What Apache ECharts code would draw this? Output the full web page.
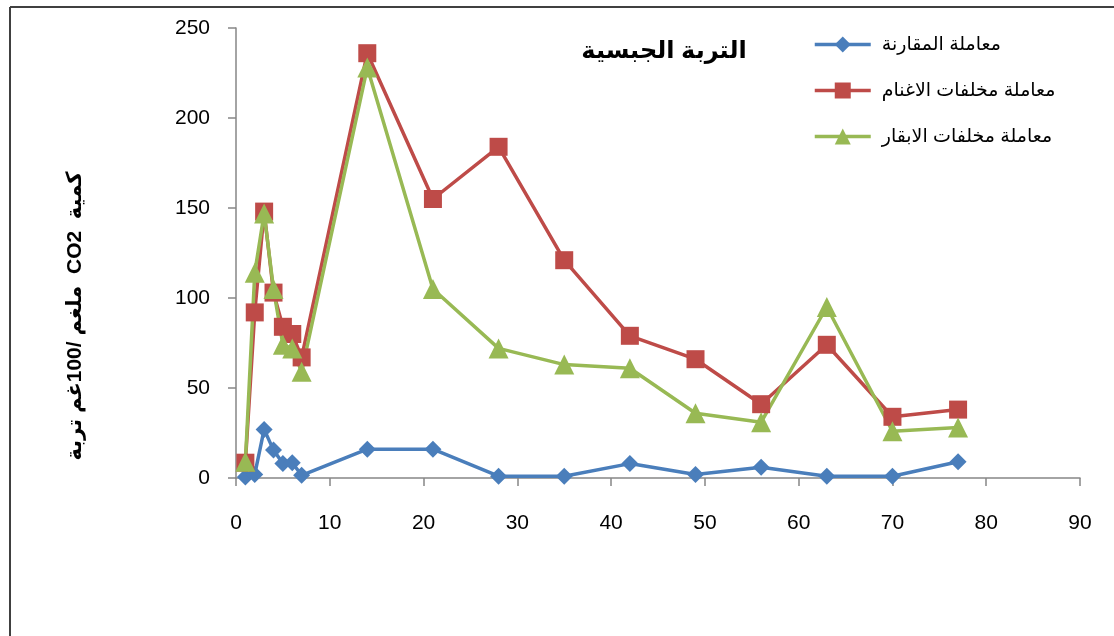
<!DOCTYPE html>
<html>
<head>
<meta charset="utf-8">
<script src="https://cdn.jsdelivr.net/npm/echarts@6/dist/echarts.min.js"></script>
<style>
  html, body { margin: 0; padding: 0; background: #fff; }
  #chart { width: 1114px; height: 636px; }
</style>
</head>
<body>
<div id="chart"></div>
<script>
// Days of incubation
const days = [1, 2, 3, 4, 5, 6, 7, 14, 21, 28, 35, 42, 49, 56, 63, 70, 77];

// CO2 evolved (mg / 100 g soil) for each treatment
const control = [0.5, 2, 27, 15.5, 8, 8.5, 1.5, 16, 16, 1, 1, 8, 2, 6, 1, 1, 9];
const sheepManure = [8.5, 92, 148, 103, 84, 80, 67, 236, 155, 184, 121, 79, 66, 41, 74, 34, 38];
const cattleManure = [9, 114, 147, 105, 74, 72, 59, 228, 105, 72, 63, 61, 36, 31, 95, 26, 28];

const seriesNames = ['معاملة المقارنة', 'معاملة مخلفات الاغنام', 'معاملة مخلفات الابقار'];
const chartTitle = 'التربة الجبسية';
const yTitle = '\u202Bكمية  CO2  ملغم /100غم تربة\u202C';

const pairs = (vals) => days.map((d, i) => [d, vals[i]]);

const chart = echarts.init(document.getElementById('chart'), null, { renderer: 'canvas' });

const numFont = 'Liberation Sans, Arial, sans-serif';
const arFont = 'Arial, "DejaVu Sans", sans-serif';

chart.setOption({
  backgroundColor: '#ffffff',
  animation: false,
  title: {
    text: chartTitle,
    left: 659,
    top: 34,
    textAlign: 'center',
    textStyle: { fontSize: 24, fontWeight: 'bold', color: '#000', fontFamily: arFont }
  },
  legend: {
    orient: 'vertical',
    left: 808,
    top: 30,
    itemWidth: 56,
    itemHeight: 20,
    itemGap: 27,
    lineStyle: { width: 3.5 },
    textStyle: { fontSize: 19, color: '#000', fontFamily: arFont, padding: [0, 0, 0, 6] },
    data: seriesNames
  },
  grid: { left: 236, right: 34, top: 28, bottom: 158, containLabel: false },
  xAxis: {
    type: 'value',
    min: 0,
    max: 90,
    interval: 10,
    axisLine: { show: true, lineStyle: { color: '#868686', width: 1.5 } },
    axisTick: { show: true, length: 8, lineStyle: { color: '#868686', width: 1.5 } },
    splitLine: { show: false },
    axisLabel: { margin: 35, fontSize: 21, color: '#000', fontFamily: numFont }
  },
  yAxis: {
    type: 'value',
    min: 0,
    max: 250,
    interval: 50,
    axisLine: { show: true, lineStyle: { color: '#868686', width: 1.5 } },
    axisTick: { show: true, length: 8, lineStyle: { color: '#868686', width: 1.5 } },
    splitLine: { show: false },
    axisLabel: { margin: 26, fontSize: 21, color: '#000', fontFamily: numFont }
  },
  graphic: [
    // frame lines on top and left
    { type: 'line', shape: { x1: 10, y1: 7, x2: 1114, y2: 7 }, style: { stroke: '#404040', lineWidth: 2 } },
    { type: 'line', shape: { x1: 10, y1: 7, x2: 10, y2: 636 }, style: { stroke: '#404040', lineWidth: 2 } },
    {
      type: 'text',
      x: 75,
      y: 316,
      rotation: Math.PI / 2,
      style: {
        text: yTitle,
        fontSize: 21,
        fontWeight: 'bold',
        fontFamily: arFont,
        fill: '#000',
        textAlign: 'center',
        textVerticalAlign: 'middle'
      }
    }
  ],
  series: [
    {
      name: seriesNames[0],
      type: 'line',
      data: pairs(control),
      symbol: 'diamond',
      symbolSize: 17,
      lineStyle: { width: 3.5, color: '#4A7EBB' },
      itemStyle: { color: '#4A7EBB' }
    },
    {
      name: seriesNames[1],
      type: 'line',
      data: pairs(sheepManure),
      symbol: 'rect',
      symbolSize: 18,
      lineStyle: { width: 3.5, color: '#BE4B48' },
      itemStyle: { color: '#BE4B48' }
    },
    {
      name: seriesNames[2],
      type: 'line',
      data: pairs(cattleManure),
      symbol: 'triangle',
      symbolSize: 20,
      lineStyle: { width: 3.5, color: '#98B954' },
      itemStyle: { color: '#98B954' }
    }
  ]
});
</script>
</body>
</html>
